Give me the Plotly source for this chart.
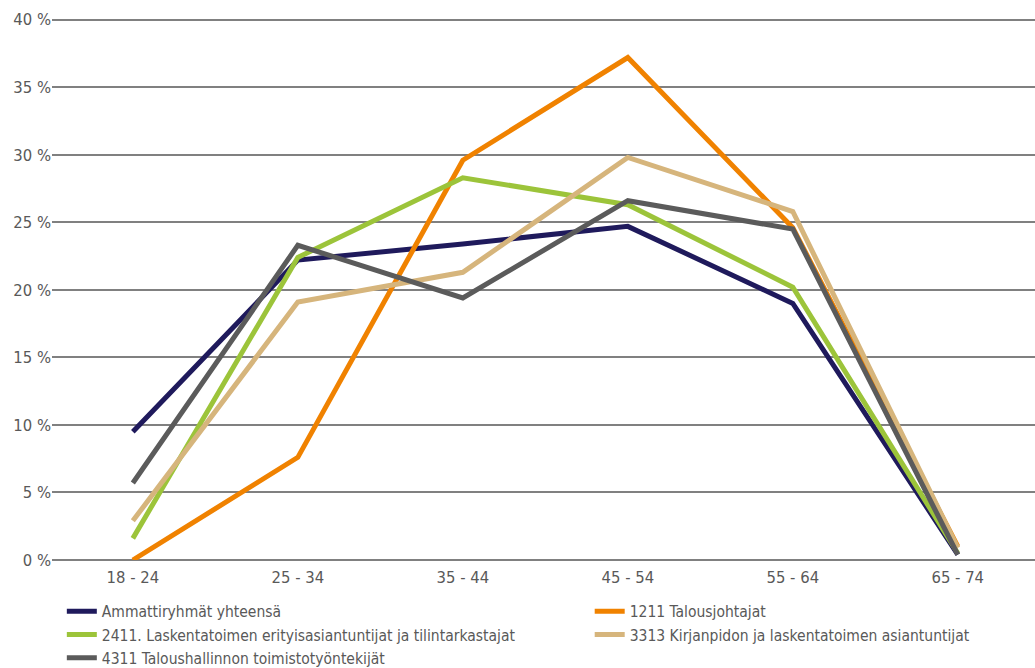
import plotly.graph_objects as go

categories = ["18 - 24", "25 - 34", "35 - 44", "45 - 54", "55 - 64", "65 - 74"]

names = [
    "Ammattiryhmät yhteensä",
    "1211 Talousjohtajat",
    "2411. Laskentatoimen erityisasiantuntijat ja tilintarkastajat",
    "3313 Kirjanpidon ja laskentatoimen asiantuntijat",
    "4311 Taloushallinnon toimistotyöntekijät",
]

ammattiryhmat = [9.5, 22.2, 23.4, 24.7, 19.0, 0.4]
talousjohtajat = [0.0, 7.6, 29.6, 37.2, 24.6, 1.0]
laskentatoimen = [1.6, 22.4, 28.3, 26.3, 20.2, 0.5]
kirjanpidon = [2.9, 19.1, 21.3, 29.8, 25.8, 0.9]
taloushallinnon = [5.7, 23.3, 19.4, 26.6, 24.5, 0.4]

y_ticks = [0, 5, 10, 15, 20, 25, 30, 35, 40]
y_tick_labels = ["0 %", "5 %", "10 %", "15 %", "20 %", "25 %", "30 %", "35 %", "40 %"]

series = [ammattiryhmat, talousjohtajat, laskentatoimen, kirjanpidon, taloushallinnon]
colors = ["#1f1a5c", "#f08200", "#9cc43a", "#d6b57c", "#5b5b5b"]
# legend column for each series (two-column legend, row-major like the reference)
legend_ids = ["legend", "legend2", "legend", "legend2", "legend"]

font_family = "DejaVu Sans Condensed, Roboto, sans-serif"
text_color = "#595959"

fig = go.Figure()
for i in range(5):
    fig.add_trace(go.Scatter(
        x=categories, y=series[i], name=names[i], mode="lines",
        line=dict(color=colors[i], width=5),
        legend=legend_ids[i],
    ))

legend_common = dict(
    orientation="v", yanchor="top", xanchor="left",
    font=dict(family=font_family, size=15.5, color=text_color),
    itemwidth=30, tracegroupgap=0, traceorder="normal",
    bgcolor="rgba(0,0,0,0)", borderwidth=0,
)

fig.update_layout(
    width=1035, height=668,
    margin=dict(l=52, r=0, t=17, b=108, autoexpand=False),
    paper_bgcolor="white", plot_bgcolor="white",
    font=dict(family=font_family, size=16, color=text_color),
    showlegend=True,
    legend=dict(x=0.01, y=-0.064, **legend_common),
    legend2=dict(x=0.547, y=-0.064, **legend_common),
    xaxis=dict(
        type="category", range=[-0.49, 5.468], showgrid=False, zeroline=False,
        showline=False, ticks="", tickfont=dict(size=16.5, color=text_color),
        ticklabelstandoff=5, automargin=False,
    ),
    yaxis=dict(
        range=[0, 40.2], tickmode="array", tickvals=y_ticks, ticktext=y_tick_labels,
        showgrid=True, gridcolor="#808080", gridwidth=1.5,
        zeroline=True, zerolinecolor="#808080", zerolinewidth=1.5,
        showline=False, ticks="", tickfont=dict(size=16.5, color=text_color),
        automargin=False,
    ),
)

page_fix = """
(function(){
  var h = document.documentElement, b = document.body;
  [h, b].forEach(function(e){
    e.style.margin = '0'; e.style.padding = '0';
    e.style.overflow = 'hidden';
  });
})();
"""

fig.write_html(
    "out.html",
    config={"displayModeBar": False},
    post_script=page_fix,
)
